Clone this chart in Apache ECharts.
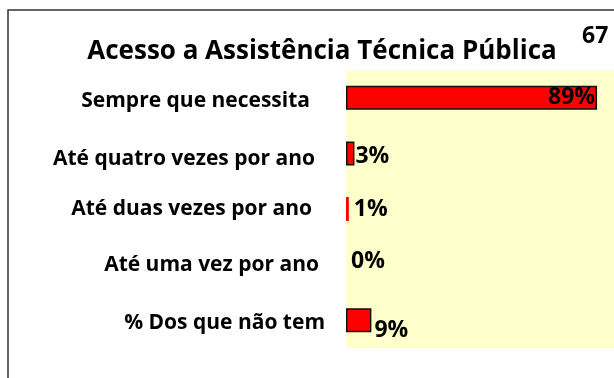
<!DOCTYPE html>
<html>
<head>
<meta charset="utf-8">
<script src="https://cdn.jsdelivr.net/npm/echarts@6/dist/echarts.min.js"></script>
<style>
  html, body { margin: 0; padding: 0; background: #ffffff; }
  #chart { width: 614px; height: 378px; }
</style>
</head>
<body>
<div id="chart"></div>
<script>
// Frequency of access to public technical assistance (%)
const categories = [
  'Sempre que necessita',
  'Até quatro vezes por ano',
  'Até duas vezes por ano',
  'Até uma vez por ano',
  '% Dos que não tem'
];
const percentValues = [89, 3, 1, 0, 9];
const chartTitle = 'Acesso a Assistência Técnica Pública';
const pageNumber = '67';

const FONT = '"Open Sans", "DejaVu Sans", sans-serif';

// per-row padding of the category labels: [downward shift, right gap]
const labelPads = [[3, 36], [6, 31], [0, 34], [0, 27], [3, 21]];
// small per-row nudges for the value labels: [dx, dy]
const valueNudges = [[0, 0], [0, 3], [4, 0], [4, -3], [2, 10]];

const rich = {};
labelPads.forEach((p, i) => {
  rich['c' + i] = {
    fontFamily: FONT, fontWeight: 'bold', fontSize: 21, color: '#000',
    padding: [p[0] * 2, p[1], 0, 0]
  };
});

const chart = echarts.init(document.getElementById('chart'), null, { renderer: 'canvas' });

chart.setOption({
  animation: false,
  backgroundColor: '#ffffff',
  title: {
    text: chartTitle,
    left: 317, top: 34, textAlign: 'center',
    textStyle: { fontFamily: FONT, fontWeight: 'bold', fontSize: 26, color: '#000' }
  },
  graphic: [
    {
      type: 'polyline',
      silent: true,
      shape: { points: [[8, 378], [8, 10], [614, 10]] },
      style: { stroke: '#333', lineWidth: 1.5, fill: null }
    },
    {
      type: 'text',
      silent: true,
      x: 582, y: 25,
      style: {
        text: pageNumber,
        fontFamily: FONT,
        fontWeight: 'bold',
        fontSize: 23,
        fill: '#000'
      }
    }
  ],
  grid: {
    left: 346, top: 70, width: 268, height: 278,
    show: true, backgroundColor: '#FFFFCC', borderWidth: 0,
    containLabel: false
  },
  xAxis: {
    type: 'value', min: 0, max: 95,
    show: false
  },
  yAxis: {
    type: 'category',
    inverse: true,
    data: categories,
    axisLine: { show: false },
    axisTick: { show: false },
    splitLine: { show: false },
    axisLabel: {
      margin: 0,
      formatter: (v, i) => '{c' + i + '|' + v + '}',
      rich: rich
    }
  },
  series: [{
    type: 'bar',
    barWidth: 24,
    data: percentValues.map((v, i) => ({
      value: v,
      itemStyle: v < 2 ? { borderWidth: 0 } : {},
      label: i === 0
        ? { position: 'insideRight', distance: 2 }
        : { offset: valueNudges[i] }
    })),
    itemStyle: { color: '#FF0000', borderColor: '#111', borderWidth: 1.5 },
    label: {
      show: true,
      position: 'right',
      distance: 1,
      formatter: '{c}%',
      fontFamily: FONT, fontWeight: 'bold', fontSize: 23, color: '#000'
    }
  }]
});
</script>
</body>
</html>
